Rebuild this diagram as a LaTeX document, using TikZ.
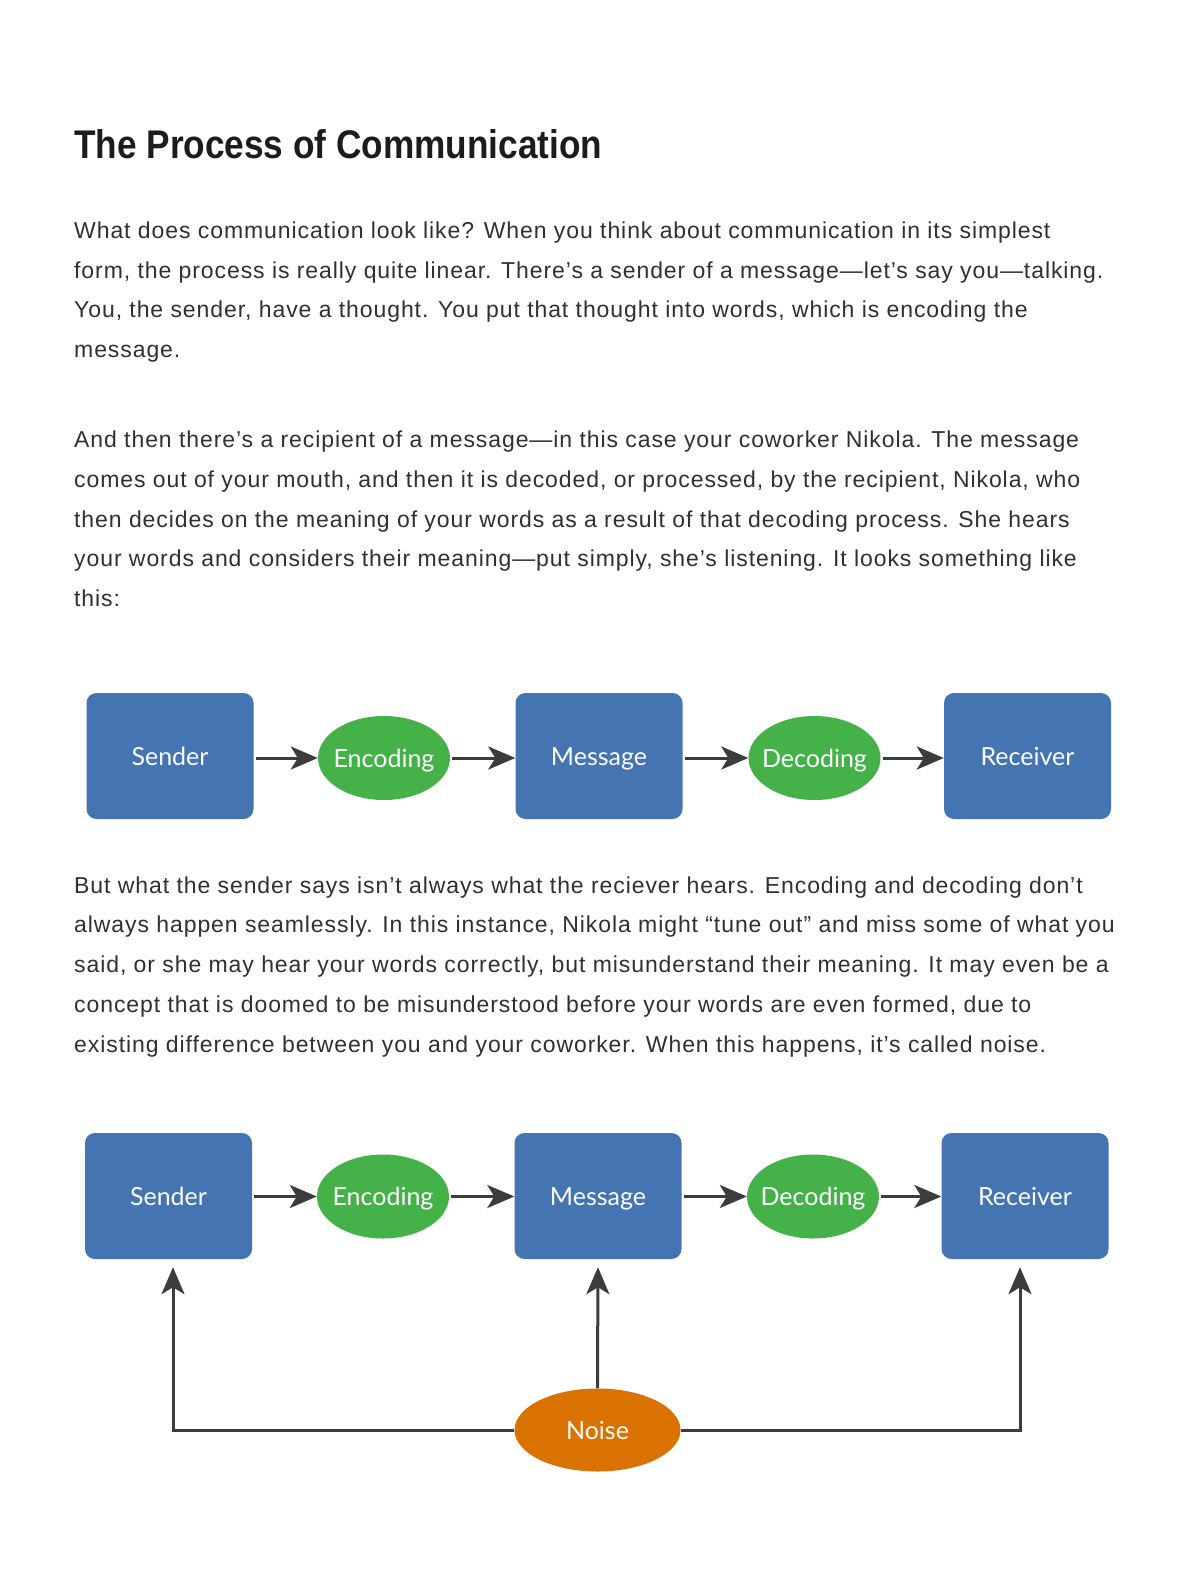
\documentclass[tikz,border=0pt]{standalone}
\usepackage{fontspec}
\setmainfont{Liberation Sans}
\newfontfamily\bodyfont[LetterSpace=4]{Liberation Sans}
\newfontfamily\headfont[FakeStretch=0.88]{Liberation Sans}
\newfontfamily\labelfont{Lato}
\usetikzlibrary{arrows.meta,shapes.geometric}
\definecolor{boxblue}{HTML}{4574B3}
\definecolor{ovalgreen}{HTML}{45B149}
\definecolor{noiseorange}{HTML}{D97200}
\definecolor{arrowgray}{HTML}{3C3C3C}
\definecolor{bodygray}{HTML}{303030}
\definecolor{headgray}{HTML}{1C1C1C}
\begin{document}
\begin{tikzpicture}[x=1bp,y=-1bp,
  bodytxt/.style={anchor=base west,inner sep=0pt,text=bodygray,
    font=\bodyfont\fontsize{23bp}{23bp}\selectfont},
  headtxt/.style={anchor=base west,inner sep=0pt,text=headgray,
    font=\headfont\bfseries\fontsize{40bp}{40bp}\selectfont},
  lbl/.style={text=white,text height=18bp,text depth=0pt,inner sep=0pt,
    font=\labelfont\fontsize{25bp}{25bp}\selectfont},
  stagebox/.style={lbl,rectangle,rounded corners=10bp,fill=boxblue,draw=none,
    minimum width=167bp,minimum height=126bp},
  stageoval/.style={ellipse,fill=ovalgreen,draw=none,inner sep=0pt,
    minimum width=132bp,minimum height=84bp,label={[lbl]center:#1}},
  noiseoval/.style={ellipse,fill=noiseorange,draw=none,inner sep=0pt,
    minimum width=166bp,minimum height=83bp,label={[lbl]center:#1}},
  conn/.style={draw=arrowgray,line width=3bp,
    -{Stealth[length=27bp,width=23bp,inset=7bp]}},
  feed/.style={conn,shorten >=8bp}
]
\useasboundingbox[fill=white] (0,0) rectangle (1200,1575);

% Title
\node[headtxt] (title) at (74,158) {The Process of Communication};

% Paragraph 1
\node[bodytxt] (pa1) at (74,238) {What does communication look like? When you think about communication in its simplest};
\node[bodytxt] (pa2) at (74,278) {form, the process is really quite linear. There’s a sender of a message—let’s say you—talking.};
\node[bodytxt] (pa3) at (74,317) {You, the sender, have a thought. You put that thought into words, which is encoding the};
\node[bodytxt] (pa4) at (74,357) {message.};

% Paragraph 2
\node[bodytxt] (pb1) at (74,447) {And then there’s a recipient of a message—in this case your coworker Nikola. The message};
\node[bodytxt] (pb2) at (74,487) {comes out of your mouth, and then it is decoded, or processed, by the recipient, Nikola, who};
\node[bodytxt] (pb3) at (74,527) {then decides on the meaning of your words as a result of that decoding process. She hears};
\node[bodytxt] (pb4) at (74,566) {your words and considers their meaning—put simply, she’s listening. It looks something like};
\node[bodytxt] (pb5) at (74,606) {this:};

% Diagram 1
\node[stagebox] (s1) at (170,756) {Sender};
\node[stageoval=Encoding] (e1) at (384,758) {};
\node[stagebox] (m1) at (599,756) {Message};
\node[stageoval=Decoding] (d1) at (814.5,758) {};
\node[stagebox] (r1) at (1027.5,756) {Receiver};
\draw[conn,shorten <=2bp] (s1.east |- e1.west) -- (e1.west);
\draw[conn,shorten <=2bp] (e1.east) -- (e1.east -| m1.west);
\draw[conn,shorten <=2bp] (m1.east |- d1.west) -- (d1.west);
\draw[conn,shorten <=2bp] (d1.east) -- (d1.east -| r1.west);

% Paragraph 3
\node[bodytxt] (pc1) at (74,893) {But what the sender says isn’t always what the reciever hears. Encoding and decoding don’t};
\node[bodytxt] (pc2) at (74,932) {always happen seamlessly. In this instance, Nikola might “tune out” and miss some of what you};
\node[bodytxt] (pc3) at (74,972) {said, or she may hear your words correctly, but misunderstand their meaning. It may even be a};
\node[bodytxt] (pc4) at (74,1012) {concept that is doomed to be misunderstood before your words are even formed, due to};
\node[bodytxt] (pc5) at (74,1052) {existing difference between you and your coworker. When this happens, it’s called noise.};

% Diagram 2
\node[stagebox] (s2) at (168.5,1196) {Sender};
\node[stageoval=Encoding] (e2) at (383,1196.5) {};
\node[stagebox] (m2) at (598,1196) {Message};
\node[stageoval=Decoding] (d2) at (813,1196.5) {};
\node[stagebox] (r2) at (1025,1196) {Receiver};
\draw[conn,shorten <=2bp] (s2.east |- e2.west) -- (e2.west);
\draw[conn,shorten <=2bp] (e2.east) -- (e2.east -| m2.west);
\draw[conn,shorten <=2bp] (m2.east |- d2.west) -- (d2.west);
\draw[conn,shorten <=2bp] (d2.east) -- (d2.east -| r2.west);

\node[noiseoval=Noise] (n2) at (597.5,1430) {};
\draw[feed] (n2.west) -| ([xshift=4.5bp]s2.south);
\draw[feed] (n2.north) -- (m2.south);
\draw[feed] (n2.east) -| ([xshift=-5bp]r2.south);
\end{tikzpicture}
\end{document}
